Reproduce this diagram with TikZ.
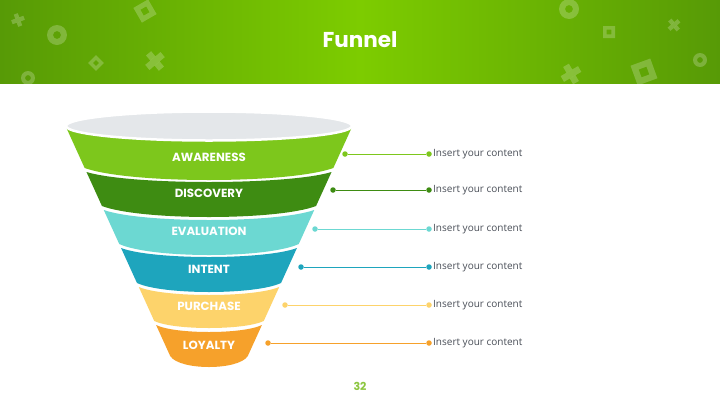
\documentclass[tikz,border=0pt]{standalone}
\usepackage{fontspec}
\setmainfont{Poppins}
\newfontfamily\txtfont{Open Sans}
\usetikzlibrary{calc}
\definecolor{cAw}{HTML}{7DC71C}
\definecolor{cDi}{HTML}{3E8C12}
\definecolor{cEv}{HTML}{6CD8D2}
\definecolor{cIn}{HTML}{1EA5BD}
\definecolor{cPu}{HTML}{FDD36B}
\definecolor{cLo}{HTML}{F6A12B}
\definecolor{hdL}{HTML}{579A06}
\definecolor{hdM}{HTML}{7DCC00}
\definecolor{txtgray}{HTML}{4A4F58}
\definecolor{topgray}{HTML}{E4E7EA}
\definecolor{pagegreen}{HTML}{8CC63F}
\tikzset{
  lbl/.style={text=white,font=\bfseries\fontsize{11.8}{13}\selectfont,inner sep=0pt},
  cdot/.style={circle,fill=#1,inner sep=0pt,minimum size=5.5pt},
  conn/.style={draw=#1,line width=0.9pt},
  ctext/.style={anchor=west,text=txtgray,font=\txtfont\fontsize{10}{11}\selectfont,inner sep=0pt},
  deco/.style={fill=white,fill opacity=0.22,draw=none},
}
\newcommand{\fband}[6]{%
  \pgfmathsetmacro{\fbXlt}{66+(#2-127)*0.455}%
  \pgfmathsetmacro{\fbXrt}{418-\fbXlt}%
  \pgfmathsetmacro{\fbXlb}{66+(#4-127)*0.455}%
  \pgfmathsetmacro{\fbXrb}{418-\fbXlb}%
  \pgfmathsetmacro{\fbAt}{0.18*(\fbXrt-\fbXlt)}%
  \pgfmathsetmacro{\fbAb}{#6*(\fbXrb-\fbXlb)}%
  \pgfmathsetmacro{\fbHt}{#2+4/3*#3}%
  \pgfmathsetmacro{\fbHb}{#4+4/3*#5}%
  \fill[#1] (\fbXlt,#2) -- (\fbXlb,#4) .. controls (\fbXlb+\fbAb,\fbHb) and (\fbXrb-\fbAb,\fbHb) .. (\fbXrb,#4)
     -- (\fbXrt,#2) .. controls (\fbXrt-\fbAt,\fbHt) and (\fbXlt+\fbAt,\fbHt) .. cycle;%
}
\newcommand{\xcross}[4]{% x y size rot
  \begin{scope}[shift={(#1,#2)},rotate=#4]
    \fill[deco] (-#3/2,-#3/6) rectangle (#3/2,#3/6);
    \fill[deco] (-#3/6,-#3/2) rectangle (#3/6,-#3/6);
    \fill[deco] (-#3/6,#3/6) rectangle (#3/6,#3/2);
  \end{scope}}
\newcommand{\hsquare}[4]{% x y size rot
  \begin{scope}[shift={(#1,#2)},rotate=#4]
    \fill[deco,even odd rule] (-#3/2,-#3/2) rectangle (#3/2,#3/2) (-#3/5,-#3/5) rectangle (#3/5,#3/5);
  \end{scope}}
\newcommand{\hring}[4]{% x y r inner
  \fill[deco,even odd rule] (#1,#2) circle[radius=#3pt] (#1,#2) circle[radius=#4pt];}
\begin{document}
\begin{tikzpicture}[x=1pt,y=-1pt]
\useasboundingbox (0,0) rectangle (720,405);
\fill[white] (0,0) rectangle (720,405);
% header
\shade[left color=hdL,right color=hdL,middle color=hdM] (0,0) rectangle (720,83);
\begin{scope}
\clip (0,0) rectangle (720,83);
\xcross{18}{20}{13}{20}
\hring{57}{35}{10}{4}
\hsquare{145}{11}{17}{30}
\hsquare{96}{63}{11}{45}
\xcross{155}{61}{20}{40}
\hring{28}{78}{7}{3}
\hring{569}{9}{10}{4}
\hsquare{609}{32}{12}{0}
\xcross{674}{25}{13}{40}
\hring{700}{60}{7}{3}
\xcross{571}{74}{20}{30}
\hsquare{644}{72}{21}{20}
\end{scope}
\node[text=white,font=\bfseries\fontsize{21.5}{25}\selectfont,inner sep=0pt] (title) at (360,40) {Funnel};
% funnel bands
\fband{cAw}{127}{0}{168}{12}{0.18}
\fband{cDi}{172}{10}{206}{11}{0.18}
\fband{cEv}{210}{10}{244}{11}{0.18}
\fband{cIn}{248}{9}{283}{9}{0.18}
\fband{cPu}{287}{8}{321}{7}{0.18}
\fband{cLo}{325}{7}{356}{11}{0.12}
% top ellipse
\fill[topgray,draw=white,line width=2.5pt] (209,126) ellipse[x radius=143pt,y radius=14.5pt];
% labels
\node[lbl] (aw) at (209,157) {AWARENESS};
\node[lbl] (di) at (209,193) {DISCOVERY};
\node[lbl] (ev) at (209,231) {EVALUATION};
\node[lbl] (in) at (209,269) {INTENT};
\node[lbl] (pu) at (209,306) {PURCHASE};
\node[lbl] (lo) at (209,345) {LOYALTY};
% connectors
\foreach \n/\c/\xa/\y in {1/cAw/345/154,2/cDi/333/190,3/cEv/315/229,4/cIn/301/267,5/cPu/285/305,6/cLo/268/343}{
  \node[cdot=\c] (s\n) at (\xa,\y) {};
  \node[cdot=\c] (e\n) at (429,\y) {};
  \draw[conn=\c] (s\n) -- (e\n);
  \node[ctext] (t\n) at (433,\y) {Insert your content};
}
\node[text=pagegreen,font=\bfseries\fontsize{11}{12}\selectfont,inner sep=0pt] (pg) at (360,386) {32};
\end{tikzpicture}
\end{document}
